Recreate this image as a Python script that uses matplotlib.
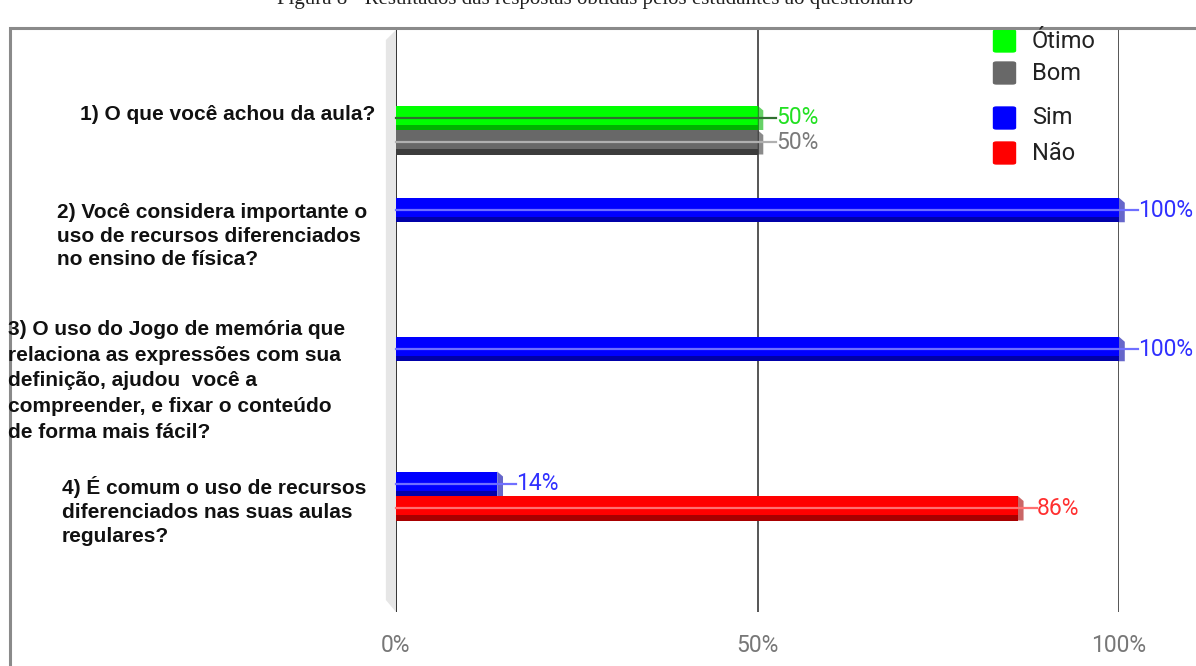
import matplotlib
matplotlib.use("Agg")
import matplotlib.pyplot as plt
from matplotlib.patches import Rectangle, Polygon, FancyBboxPatch

# data
questions = [
    "1) O que você achou da aula?",
    "2) Você considera importante o\nuso de recursos diferenciados\nno ensino de física?",
    "3) O uso do Jogo de memória que\nrelaciona as expressões com sua\ndefinição, ajudou  você a\ncompreender, e fixar o conteúdo\nde forma mais fácil?",
    "4) É comum o uso de recursos\ndiferenciados nas suas aulas\nregulares?",
]
otimo = [50, None, None, None]
bom = [50, None, None, None]
sim = [None, 100, 100, 14]
nao = [None, None, None, 86]
tick_vals = [0, 50, 100]
tick_labels = ["0%", "50%", "100%"]
caption = "Figura 8 - Resultados das respostas obtidas pelos estudantes ao questionário"

# layout (pixel-ish units: 1 unit = 100 px)
W, H = 1196, 666
group_y = [1.30, 2.10, 3.49, 4.96]
bar_h = 0.245
label_x = [375, 57, 8, 62]
label_y = [115, 236, 381, 511]
label_align = ["right", "left", "left", "left"]
label_spacing = [1.2, 1.33, 1.45, 1.33]

styles = {
    "Ótimo": dict(face="#00ff00", dark="#00b300", line="#2f6f2f", text="#22e022"),
    "Bom": dict(face="#686868", dark="#3c3c3c", line="#b0b0b0", text="#7a7a7a"),
    "Sim": dict(face="#0000ff", dark="#0000a8", line="#6f6fff", text="#3030ff"),
    "Não": dict(face="#ff0000", dark="#a80000", line="#ff7070", text="#ff3030"),
}

fig = plt.figure(figsize=(W / 100, H / 100), dpi=100)
fig.patch.set_facecolor("white")

x0, x1 = 396, 1119
top, bot = 30, 612
ax = fig.add_axes([x0 / W, 1 - bot / H, (x1 - x0) / W, (bot - top) / H])
ax.set_xlim(0, 100)
ax.set_ylim(bot / 100, top / 100)
ax.axis("off")

# 3D wall at the left of the zero line
ax.add_patch(Polygon([(-1.4, 0.40), (0, 0.30), (0, 6.12), (-1.4, 6.0)],
                     closed=True, facecolor="#e6e6e6", edgecolor="none",
                     clip_on=False, zorder=0))

for v in tick_vals:
    ax.axvline(v, color="#333333" if v == 0 else "#555555", lw=1.4, zorder=1)


def draw_bar(y, val, name):
    st = styles[name]
    ax.barh(y, val + 0.7, height=bar_h, left=-0.7, color=st["face"],
            edgecolor="none", zorder=3)
    strip = bar_h * 0.22
    ax.barh(y + bar_h / 2 - strip / 2, val + 0.7, height=strip, left=-0.7,
            color=st["dark"], edgecolor="none", zorder=3)
    # bevel at the right end
    ax.add_patch(Polygon([(val, y - bar_h / 2), (val + 0.8, y - bar_h / 2 + 0.05),
                          (val + 0.8, y + bar_h / 2), (val, y + bar_h / 2)],
                         closed=True, facecolor=st["dark"], alpha=0.6,
                         edgecolor="none", zorder=3, clip_on=False))
    ax.plot([0, val + 2.6], [y, y], color=st["line"], lw=1.6, zorder=4,
            clip_on=False)
    ax.text(val + 2.6, y, f"{val}%", color=st["text"], fontsize=16.5,
            family="Roboto", va="center", ha="left", zorder=5)


for i, y in enumerate(group_y):
    pairs = []
    if otimo[i] is not None:
        pairs.append(("Ótimo", otimo[i]))
    if bom[i] is not None:
        pairs.append(("Bom", bom[i]))
    if sim[i] is not None:
        pairs.append(("Sim", sim[i]))
    if nao[i] is not None:
        pairs.append(("Não", nao[i]))
    if len(pairs) == 1:
        draw_bar(y, pairs[0][1], pairs[0][0])
    else:
        draw_bar(y - bar_h / 2, pairs[0][1], pairs[0][0])
        draw_bar(y + bar_h / 2, pairs[1][1], pairs[1][0])

# question labels
for txt, lx, ly, ha, ls in zip(questions, label_x, label_y, label_align, label_spacing):
    fig.text(lx / W, 1 - ly / H, txt, ha=ha, va="center", fontsize=15,
             fontweight="bold", family="Liberation Sans", color="#111111",
             linespacing=ls, multialignment="left")

# x tick labels
for v, lab in zip(tick_vals, tick_labels):
    px = x0 + (x1 - x0) * v / 100
    fig.text(px / W, 1 - 645 / H, lab, ha="center", va="center",
             fontsize=16.5, family="Roboto", color="#777777")

# legend
legend_y = [41, 73, 118, 153]
for (name, st), ly in zip(styles.items(), legend_y):
    fig.add_artist(FancyBboxPatch((994 / W, 1 - (ly + 11) / H), 21 / W, 22 / H,
                                  boxstyle="round,pad=0.001,rounding_size=0.003",
                                  transform=fig.transFigure, facecolor=st["face"],
                                  edgecolor="none"))
    fig.text(1032 / W, 1 - ly / H, name, ha="left", va="center",
             fontsize=17, family="Roboto", color="#222222")

# frame and cut caption
fig.add_artist(Rectangle((10 / W, -0.2), 1.2, 1.2 - 28 / H,
                         transform=fig.transFigure, facecolor="none",
                         edgecolor="#8a8a8a", lw=2.2))
fig.text(595 / W, 1 + 1 / H, caption, ha="center", va="center",
         fontsize=15, family="Liberation Serif", color="#222222")

fig.savefig("out.png", dpi=100)
